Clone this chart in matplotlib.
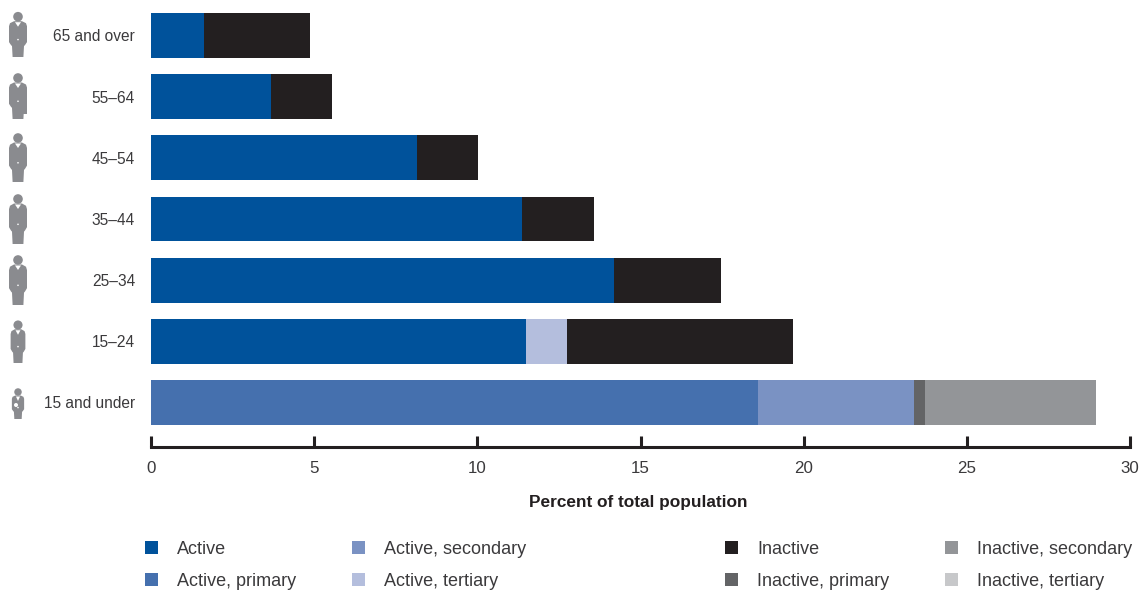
import matplotlib.pyplot as plt
from matplotlib.patches import Polygon, Circle, Rectangle

plt.rcParams['font.family'] = ['Liberation Sans', 'DejaVu Sans']

ages = ['15 and under', '15–24', '25–34', '35–44', '45–54', '55–64', '65 and over']

active           = [0, 11.49, 14.19, 11.37, 8.15, 3.68, 1.63]
active_primary   = [18.6, 0, 0, 0, 0, 0, 0]
active_secondary = [4.78, 0, 0, 0, 0, 0, 0]
active_tertiary  = [0, 1.26, 0, 0, 0, 0, 0]
inactive           = [0, 6.92, 3.28, 2.21, 1.87, 1.87, 3.24]
inactive_primary   = [0.34, 0, 0, 0, 0, 0, 0]
inactive_secondary = [5.24, 0, 0, 0, 0, 0, 0]
inactive_tertiary  = [0, 0, 0, 0, 0, 0, 0]

series = [
    ('Active', active, '#00529b'),
    ('Active, primary', active_primary, '#4570ae'),
    ('Active, secondary', active_secondary, '#7a92c3'),
    ('Active, tertiary', active_tertiary, '#b4bedd'),
    ('Inactive', inactive, '#231f20'),
    ('Inactive, primary', inactive_primary, '#636466'),
    ('Inactive, secondary', inactive_secondary, '#939598'),
    ('Inactive, tertiary', inactive_tertiary, '#c7c8ca'),
]

W, H = 1143, 592
TEXT = '#3b3a3c'
GREY = '#8a8b8f'

fig = plt.figure(figsize=(W / 100, H / 100), dpi=100)
ax = fig.add_axes([151 / W, (H - 447) / H, 979 / W, 447 / H])

left = [0] * len(ages)
for name, vals, col in series:
    ax.barh(range(len(ages)), vals, left=left, height=0.731, color=col, linewidth=0)
    left = [a + b for a, b in zip(left, vals)]

ax.set_xlim(0, 30)
ax.set_ylim(-0.7275, 6.58)
ax.set_xticks(range(0, 31, 5))
ax.set_yticks(range(len(ages)))
ax.set_yticklabels(ages, fontsize=11.2, color=TEXT)
ax.tick_params(axis='y', length=0, pad=11.5)
ax.tick_params(axis='x', direction='in', length=8, width=2.2, color='#231f20',
               labelsize=12.2, labelcolor=TEXT, pad=10)
for s in ['top', 'left', 'right']:
    ax.spines[s].set_visible(False)
ax.spines['bottom'].set_linewidth(2.2)
ax.spines['bottom'].set_color('#231f20')
ax.set_xlabel('Percent of total population', fontsize=12.4, fontweight='bold',
              color='#231f20', labelpad=14, x=0.4975)

# overlay in pixel coords for icons and legend
ov = fig.add_axes([0, 0, 1, 1])
ov.set_xlim(0, W)
ov.set_ylim(H, 0)
ov.axis('off')
ov.patch.set_alpha(0)


def man(cy, foot, s=1.0, w=1.0):
    # cy = head centre, foot = bottom of the legs
    cx = 18
    t = cy + 4.5 * s
    k = (foot - t) / 36
    pts = [(-4, 0), (4, 0), (8, 2), (9, 5), (9, 21), (7, 24), (6, 25), (5.4, 36),
           (-5.4, 36), (-6, 25), (-7, 24), (-9, 21), (-9, 5), (-8, 2)]
    ov.add_patch(Polygon([(cx + px * w, t + py * k) for px, py in pts], color=GREY, lw=0))
    ov.add_patch(Circle((cx, cy), 4.8 * s, color=GREY, lw=0))
    # collar and the gap at the hem
    ov.add_patch(Polygon([(cx - 3 * w, t + 1), (cx + 3 * w, t + 1), (cx, t + 5.5)],
                         color='white', lw=0))
    ov.add_patch(Circle((cx, t + 18.5 * k), 0.8, color='white', lw=0))


man(16.7, 57)
man(78, 119)
ov.add_patch(Rectangle((22, 103), 5, 11, color=GREY, lw=0))  # bag
man(138, 182)
man(199, 244)
man(260, 305)
man(325, 363, s=0.95, w=0.82)
man(392, 419, s=0.78, w=0.68)
ov.add_patch(Circle((16, 405), 2, color='white', lw=0))

# legend
cols = [145, 352, 725, 945]
rows = [548, 580]
for i, (name, vals, col) in enumerate(series):
    x = cols[i // 2]
    y = rows[i % 2]
    ov.add_patch(Rectangle((x, y - 7), 13, 13, color=col, lw=0))
    ov.text(x + 32, y + 1.5, name, fontsize=13, color=TEXT, va='center', ha='left')

fig.savefig('out.png', dpi=100)
